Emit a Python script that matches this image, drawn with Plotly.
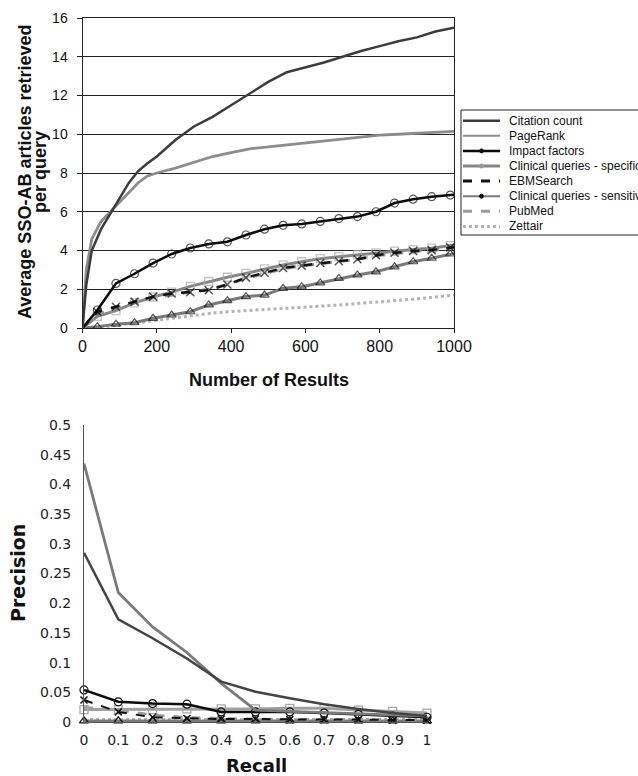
import plotly.graph_objects as go

W, H = 638, 776

# ---------------- Top chart data: articles retrieved vs number of results ----------------
cc_x = [0, 5, 10, 25, 50, 75, 100, 125, 150, 175, 200, 250, 300, 350, 400, 450, 500, 550, 600, 650, 700, 750, 800, 850, 900, 950, 1000]
cc_y = [0, 1.2, 2.2, 4.0, 5.1, 5.9, 6.7, 7.5, 8.1, 8.5, 8.85, 9.7, 10.4, 10.9, 11.5, 12.1, 12.7, 13.2, 13.45, 13.7, 14.0, 14.3, 14.55, 14.8, 15.0, 15.3, 15.5]

pr_x = [0, 5, 10, 25, 50, 75, 100, 125, 150, 175, 200, 250, 300, 350, 400, 450, 500, 550, 600, 650, 700, 750, 800, 850, 900, 950, 1000]
pr_y = [0, 1.8, 3.0, 4.6, 5.5, 6.0, 6.5, 7.0, 7.5, 7.85, 8.0, 8.25, 8.55, 8.85, 9.05, 9.25, 9.35, 9.45, 9.55, 9.65, 9.75, 9.85, 9.95, 10.0, 10.05, 10.1, 10.15]

mk_x = [0, 40, 90, 140, 190, 240, 290, 340, 390, 440, 490, 540, 590, 640, 690, 740, 790, 840, 890, 940, 990, 1000]
if_y = [0, 0.93, 2.3, 2.8, 3.35, 3.82, 4.13, 4.34, 4.45, 4.8, 5.1, 5.3, 5.37, 5.5, 5.65, 5.75, 6.0, 6.45, 6.65, 6.78, 6.86, 6.88]
spec_y = [0, 0.6, 0.9, 1.3, 1.6, 1.85, 2.15, 2.4, 2.62, 2.82, 3.05, 3.25, 3.42, 3.58, 3.68, 3.78, 3.88, 3.97, 4.05, 4.12, 4.25, 4.28]
ebm_y = [0, 0.84, 1.1, 1.36, 1.62, 1.78, 1.85, 1.95, 2.25, 2.6, 2.85, 3.1, 3.22, 3.35, 3.45, 3.55, 3.75, 3.88, 3.97, 4.02, 4.15, 4.17]
pm_y = [0, 0.7, 1.0, 1.3, 1.55, 1.72, 1.85, 2.0, 2.25, 2.55, 2.8, 3.05, 3.2, 3.32, 3.45, 3.55, 3.72, 3.85, 3.95, 4.0, 4.1, 4.12]
sens_y = [0, 0.07, 0.2, 0.27, 0.5, 0.67, 0.84, 1.19, 1.41, 1.62, 1.7, 2.05, 2.13, 2.33, 2.56, 2.74, 2.9, 3.16, 3.42, 3.6, 3.82, 3.85]

zt_x = [0, 50, 100, 150, 200, 250, 300, 350, 400, 450, 500, 550, 600, 650, 700, 750, 800, 850, 900, 950, 1000]
zt_y = [0, 0.05, 0.15, 0.28, 0.4, 0.52, 0.65, 0.77, 0.85, 0.92, 0.97, 1.02, 1.07, 1.13, 1.2, 1.28, 1.35, 1.42, 1.5, 1.6, 1.7]

top_yticks = [0, 2, 4, 6, 8, 10, 12, 14, 16]
top_xticks = [0, 200, 400, 600, 800, 1000]

# ---------------- Bottom chart data: precision vs recall ----------------
recall = [0, 0.1, 0.2, 0.3, 0.4, 0.5, 0.6, 0.7, 0.8, 0.9, 1.0]
recall_labels = ["0", "0.1", "0.2", "0.3", "0.4", "0.5", "0.6", "0.7", "0.8", "0.9", "1"]
p_cc = [0.285, 0.173, 0.141, 0.107, 0.068, 0.051, 0.04, 0.03, 0.022, 0.015, 0.01]
p_pr = [0.435, 0.218, 0.16, 0.117, 0.065, 0.02, 0.018, 0.016, 0.014, 0.012, 0.01]
p_if = [0.054, 0.034, 0.031, 0.030, 0.017, 0.017, 0.017, 0.015, 0.013, 0.010, 0.008]
p_spec = [0.021, 0.021, 0.021, 0.022, 0.022, 0.022, 0.023, 0.023, 0.02, 0.018, 0.015]
p_ebm = [0.037, 0.017, 0.008, 0.006, 0.005, 0.005, 0.004, 0.004, 0.004, 0.003, 0.003]
p_sens = [0.002, 0.002, 0.002, 0.002, 0.002, 0.002, 0.002, 0.002, 0.002, 0.002, 0.002]
p_pm = [0.025, 0.02, 0.012, 0.008, 0.006, 0.005, 0.005, 0.004, 0.004, 0.003, 0.003]
p_zt = [0.004, 0.004, 0.004, 0.004, 0.004, 0.004, 0.004, 0.004, 0.004, 0.004, 0.004]
prec_ticks = [0, 0.05, 0.1, 0.15, 0.2, 0.25, 0.3, 0.35, 0.4, 0.45, 0.5]
prec_labels = ["0", "0.05", "0.1", "0.15", "0.2", "0.25", "0.3", "0.35", "0.4", "0.45", "0.5"]

series_names = ["Citation count", "PageRank", "Impact factors", "Clinical queries - specific",
                "EBMSearch", "Clinical queries - sensitive", "PubMed", "Zettair"]

C_CC = "#3c3c3c"
C_PR = "#8c8c8c"
C_IF = "#0a0a0a"
C_SPEC = "#858585"
C_EBM = "#111111"
C_SENS = "#7a7a7a"
C_PM = "#9a9a9a"
C_ZT = "#b4b4b4"

fig = go.Figure()

def msizes(n, s):
    return [0] + [s] * (n - 2) + [0]

n = len(mk_x)
# ---- top traces ----
fig.add_trace(go.Scatter(x=zt_x, y=zt_y, mode="lines", line=dict(color=C_ZT, width=3, dash="dot"),
                         xaxis="x", yaxis="y"))
fig.add_trace(go.Scatter(x=mk_x, y=sens_y, mode="lines+markers", line=dict(color=C_SENS, width=3),
                         marker=dict(symbol="triangle-up-open", size=msizes(n, 8), color="#111",
                                     line=dict(width=1.2, color="#111")),
                         xaxis="x", yaxis="y"))
fig.add_trace(go.Scatter(x=mk_x, y=pm_y, mode="lines", line=dict(color=C_PM, width=3, dash="dash"),
                         xaxis="x", yaxis="y"))
fig.add_trace(go.Scatter(x=mk_x, y=spec_y, mode="lines+markers", line=dict(color=C_SPEC, width=3),
                         marker=dict(symbol="square-open", size=msizes(n, 8), color="#a8a8a8",
                                     line=dict(width=1.3, color="#a8a8a8")),
                         xaxis="x", yaxis="y"))
fig.add_trace(go.Scatter(x=mk_x, y=ebm_y, mode="lines+markers", line=dict(color=C_EBM, width=2.5, dash="dash"),
                         marker=dict(symbol="x-thin-open", size=msizes(n, 8), color="#111",
                                     line=dict(width=1.5, color="#111")),
                         xaxis="x", yaxis="y"))
fig.add_trace(go.Scatter(x=mk_x, y=if_y, mode="lines+markers", line=dict(color=C_IF, width=2.5),
                         marker=dict(symbol="circle-open", size=msizes(n, 8), color="#111",
                                     line=dict(width=1.2, color="#111")),
                         xaxis="x", yaxis="y"))
fig.add_trace(go.Scatter(x=pr_x, y=pr_y, mode="lines", line=dict(color=C_PR, width=2.8),
                         xaxis="x", yaxis="y"))
fig.add_trace(go.Scatter(x=cc_x, y=cc_y, mode="lines", line=dict(color=C_CC, width=2.5),
                         xaxis="x", yaxis="y"))

# ---- bottom traces ----
fig.add_trace(go.Scatter(x=recall, y=p_zt, mode="lines", line=dict(color=C_ZT, width=3, dash="dot"),
                         xaxis="x2", yaxis="y2", cliponaxis=False))
fig.add_trace(go.Scatter(x=recall, y=p_sens, mode="lines+markers", line=dict(color=C_SENS, width=2.5),
                         marker=dict(symbol="triangle-up-open", size=8, color="#111", line=dict(width=1.2, color="#111")),
                         xaxis="x2", yaxis="y2", cliponaxis=False))
fig.add_trace(go.Scatter(x=recall, y=p_pm, mode="lines", line=dict(color=C_PM, width=2.5, dash="dash"),
                         xaxis="x2", yaxis="y2", cliponaxis=False))
fig.add_trace(go.Scatter(x=recall, y=p_spec, mode="lines+markers", line=dict(color="#a0a0a0", width=3),
                         marker=dict(symbol="square-open", size=8, color="#a8a8a8", line=dict(width=1.3, color="#a8a8a8")),
                         xaxis="x2", yaxis="y2", cliponaxis=False))
fig.add_trace(go.Scatter(x=recall, y=p_ebm, mode="lines+markers", line=dict(color=C_EBM, width=2, dash="dash"),
                         marker=dict(symbol="x-thin-open", size=7, color="#111", line=dict(width=1.5, color="#111")),
                         xaxis="x2", yaxis="y2", cliponaxis=False))
fig.add_trace(go.Scatter(x=recall, y=p_if, mode="lines+markers", line=dict(color=C_IF, width=2.5),
                         marker=dict(symbol="circle-open", size=8, color="#111", line=dict(width=1.2, color="#111")),
                         xaxis="x2", yaxis="y2", cliponaxis=False))
fig.add_trace(go.Scatter(x=recall, y=p_pr, mode="lines", line=dict(color="#7a7a7a", width=2.8),
                         xaxis="x2", yaxis="y2", cliponaxis=False))
fig.add_trace(go.Scatter(x=recall, y=p_cc, mode="lines", line=dict(color="#444444", width=2.5),
                         xaxis="x2", yaxis="y2", cliponaxis=False))

ARIAL = "Liberation Sans, Arial, sans-serif"
VERD = "DejaVu Sans, Verdana, sans-serif"

# ---- legend (drawn with shapes + annotations to match the compact spacing) ----
leg_styles = [
    dict(color=C_CC, width=2.5, dash="solid", dot=None),
    dict(color=C_PR, width=2, dash="solid", dot=None),
    dict(color=C_IF, width=2.5, dash="solid", dot="#111"),
    dict(color=C_SPEC, width=3, dash="solid", dot="#999"),
    dict(color=C_EBM, width=3, dash="dash", dot=None),
    dict(color=C_SENS, width=2, dash="solid", dot="#111"),
    dict(color=C_PM, width=3, dash="dash", dot=None),
    dict(color=C_ZT, width=3, dash="dot", dot=None),
]

def fx(p):
    return p / W

def fy(p):
    return 1 - p / H

shapes = [dict(type="rect", xref="paper", yref="paper", x0=fx(461), x1=fx(700), y0=fy(235), y1=fy(110),
               line=dict(color="#222", width=1), fillcolor="white", layer="above")]
annotations = []
for i, (name, st) in enumerate(zip(series_names, leg_styles)):
    yc = 120.7 + 15.1 * i
    shapes.append(dict(type="line", xref="paper", yref="paper", x0=fx(463), x1=fx(500), y0=fy(yc), y1=fy(yc),
                       line=dict(color=st["color"], width=st["width"], dash=st["dash"]), layer="above"))
    if st["dot"]:
        shapes.append(dict(type="circle", xref="paper", yref="paper", x0=fx(479.5), x1=fx(483.5),
                           y0=fy(yc + 2), y1=fy(yc - 2), line=dict(color=st["dot"], width=1),
                           fillcolor=st["dot"], layer="above"))
    annotations.append(dict(text=name, x=fx(507), y=fy(yc), xref="paper", yref="paper",
                            xanchor="left", yanchor="middle", showarrow=False,
                            font=dict(family=ARIAL, size=12, color="#111")))

annotations += [
    dict(text="Average SSO-AB articles retrieved", x=fx(25), y=fy(172), xref="paper", yref="paper",
         xanchor="center", yanchor="middle", textangle=-90, showarrow=False,
         font=dict(family=ARIAL, size=18, color="#111", weight="bold")),
    dict(text="per query", x=fx(40), y=fy(172), xref="paper", yref="paper",
         xanchor="center", yanchor="middle", textangle=-90, showarrow=False,
         font=dict(family=ARIAL, size=18, color="#111", weight="bold")),
    dict(text="Number of Results", x=fx(269), y=fy(380), xref="paper", yref="paper",
         xanchor="center", yanchor="middle", showarrow=False,
         font=dict(family=ARIAL, size=18, color="#111", weight="bold")),
    dict(text="Precision", x=fx(18), y=fy(573), xref="paper", yref="paper",
         xanchor="center", yanchor="middle", textangle=-90, showarrow=False,
         font=dict(family=VERD, size=19, color="#111", weight="bold")),
    dict(text="Recall", x=fx(256), y=fy(778), xref="paper", yref="paper",
         xanchor="center", yanchor="bottom", showarrow=False,
         font=dict(family=VERD, size=18, color="#111", weight="bold")),
]

fig.update_layout(
    width=W, height=H,
    margin=dict(l=0, r=0, t=0, b=0, autoexpand=False),
    paper_bgcolor="white", plot_bgcolor="white",
    showlegend=False,
    xaxis=dict(domain=[fx(82.5), fx(454)], range=[0, 1000], tickvals=top_xticks,
               showline=True, linecolor="#222", linewidth=1, mirror=True,
               ticks="outside", ticklen=4, tickcolor="#222", showgrid=False, zeroline=False,
               tickfont=dict(family=ARIAL, size=16, color="#111"), anchor="y"),
    yaxis=dict(domain=[fy(328), fy(18)], range=[0, 16], tickvals=top_yticks,
               showline=True, linecolor="#222", linewidth=1, mirror=True,
               ticks="outside", ticklen=5, tickcolor="#222", ticklabelstandoff=6,
               showgrid=True, gridcolor="#222", gridwidth=1, zeroline=False,
               tickfont=dict(family=ARIAL, size=14, color="#111"), anchor="x"),
    xaxis2=dict(domain=[fx(84), fx(427)], range=[0, 1], tickvals=recall, ticktext=recall_labels,
                showline=True, linecolor="#555", linewidth=1, ticks="outside", ticklen=5,
                tickcolor="rgba(0,0,0,0)", showgrid=False, zeroline=False,
                tickfont=dict(family=VERD, size=14, color="#222"), anchor="y2"),
    yaxis2=dict(domain=[fy(722), fy(425)], range=[0, 0.5], tickvals=prec_ticks, ticktext=prec_labels,
                showline=True, linecolor="#555", linewidth=1, ticks="", ticklabelstandoff=9,
                showgrid=False, zeroline=False,
                tickfont=dict(family=VERD, size=14, color="#222"), anchor="x2"),
    shapes=shapes,
    annotations=annotations,
)

fig.write_html("out.html", config={"displayModeBar": False},
               post_script="document.body.style.margin='0';document.body.style.overflow='hidden';")
